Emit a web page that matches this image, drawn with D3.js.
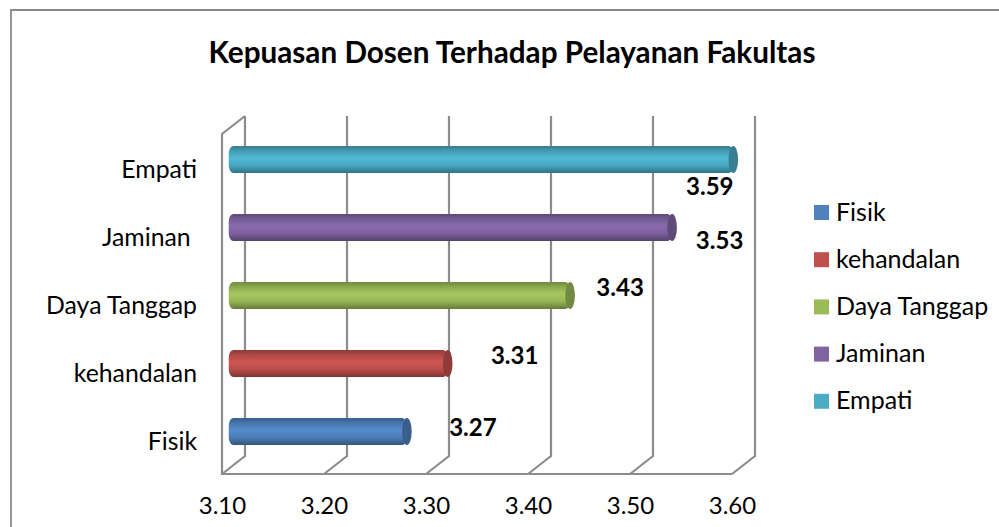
<!DOCTYPE html>
<html><head><meta charset="utf-8">
<script src="https://cdn.jsdelivr.net/npm/d3@7"></script>
<style>
html,body{margin:0;padding:0;background:#fff;}
svg{display:block;font-family:Lato,"Open Sans",sans-serif;}
text{white-space:pre;fill:#000;}
</style></head><body>
<svg id="c" width="999" height="527"></svg>
<script>
const categories = ["Fisik","kehandalan","Daya Tanggap","Jaminan ","Empati"];
const values = [3.27,3.31,3.43,3.53,3.59];
const colors = ["#4F81BD","#C0504D","#9BBB59","#8064A2","#4BACC6"];
const legendLabels = ["Fisik","kehandalan","Daya Tanggap","Jaminan","Empati"];
const xTicks = [3.1,3.2,3.3,3.4,3.5,3.6];
const titleText = "Kepuasan Dosen Terhadap Pelayanan Fakultas";
// manual placement of the data labels, relative to the bar end
const labelDx = [66,67,50,47.5,-23.5];
const labelDy = [-3.5,-7.5,-8,13.5,27.5];

const svg = d3.select("#c");
const grid = "#8c8c8c";
const depth = {dx:23, dy:-18};
const xFront = d3.scaleLinear().domain([3.1,3.6]).range([222,732]);
const xBar = d3.scaleLinear().domain([3.1,3.6]).range([233.5,743.5]);
const yBand = d3.scaleBand().domain(categories).range([465.5,125.5]).paddingInner(0.6).paddingOuter(0.3);

// outer frame
svg.append("path").attr("d","M11,527V10H999").attr("fill","none").attr("stroke","#8a8a8a").attr("stroke-width",1.8);

// title
svg.append("text").attr("x",512).attr("y",63).attr("text-anchor","middle")
  .attr("font-size",29.7).attr("font-weight",700).text(titleText);

// walls + floor
const g3d = svg.append("g").attr("fill","none").attr("stroke",grid).attr("stroke-width",2.2);
g3d.selectAll("path.g").data(xTicks).join("path").attr("class","g")
  .attr("d",t=>{const x=xFront(t);return `M${x},474L${x+depth.dx},${474+depth.dy}L${x+depth.dx},116`;});
g3d.append("path").attr("d",`M${xFront(3.1)+depth.dx},116L${xFront(3.1)},134V474H${xFront(3.6)}`);

// gradients
const defs = svg.append("defs");
colors.forEach((c,i)=>{
  const g = defs.append("linearGradient").attr("id","g"+i).attr("x1",0).attr("x2",0).attr("y1",0).attr("y2",1);
  const base = d3.color(c);
  [[0,base.darker(0.9)],[0.2,base.darker(0.25)],[0.45,base.brighter(0.2)],[0.72,base.darker(0.1)],[1,base.darker(1.2)]]
    .forEach(([o,col])=>g.append("stop").attr("offset",o).attr("stop-color",col));
});

// bars
const capRx = 4.8;
const bars = svg.append("g").selectAll("g").data(categories).join("g");
bars.append("rect")
  .attr("x",xBar(3.1)-capRx).attr("y",d=>yBand(d))
  .attr("width",(d,i)=>xBar(values[i])-xBar(3.1)+capRx).attr("height",yBand.bandwidth())
  .attr("rx",capRx).attr("ry",8)
  .attr("fill",(d,i)=>`url(#g${i})`);
bars.append("ellipse")
  .attr("cx",(d,i)=>xBar(values[i])).attr("cy",d=>yBand(d)+yBand.bandwidth()/2)
  .attr("rx",capRx).attr("ry",yBand.bandwidth()/2)
  .attr("fill",(d,i)=>d3.color(colors[i]).darker(0.85));

// data labels
svg.append("g").selectAll("text").data(values).join("text")
  .attr("x",(v,i)=>xBar(v)+labelDx[i])
  .attr("y",(v,i)=>yBand(categories[i])+yBand.bandwidth()/2+labelDy[i]+8)
  .attr("text-anchor","middle").attr("font-size",24).attr("font-weight",700)
  .text(v=>d3.format(".2f")(v));

// y axis labels
svg.append("g").selectAll("text").data(categories).join("text")
  .attr("x",197).attr("y",d=>yBand(d)+yBand.bandwidth()/2+18.5)
  .attr("text-anchor","end").attr("font-size",24.8).text(d=>d);

// x axis
const ax = svg.append("g").attr("transform","translate(0,497)")
  .call(d3.axisBottom(xFront).tickValues(xTicks).tickFormat(d3.format(".2f")).tickSize(0).tickPadding(0));
ax.select(".domain").remove();
ax.selectAll("text").attr("font-size",24).attr("font-family","Lato").attr("fill","#000");

// legend
const leg = svg.append("g").selectAll("g").data(legendLabels).join("g")
  .attr("transform",(d,i)=>`translate(814,${205+i*47.2})`);
leg.append("rect").attr("width",15).attr("height",15).attr("fill",(d,i)=>colors[i]);
leg.append("text").attr("x",22).attr("y",15.5).attr("font-size",25).text(d=>d);
</script>
</body></html>
